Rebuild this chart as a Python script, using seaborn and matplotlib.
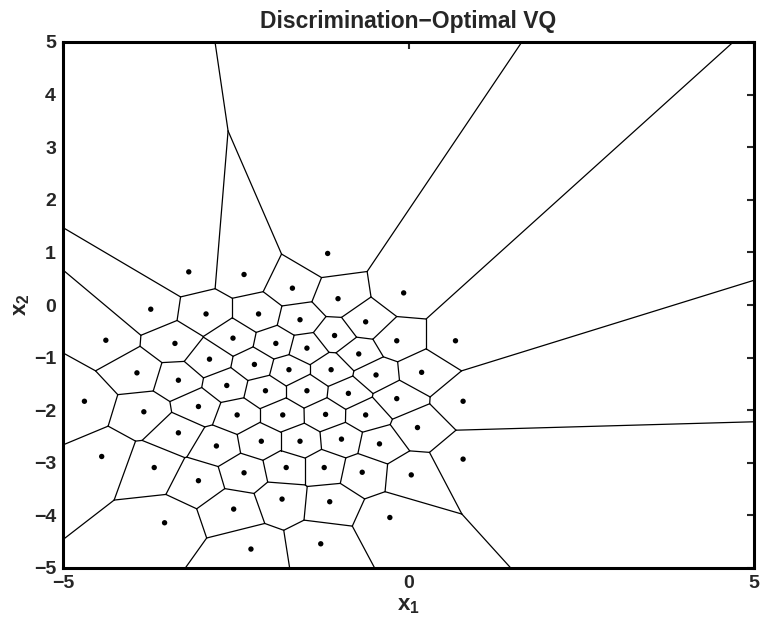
import numpy as np
import pandas as pd
import matplotlib
matplotlib.use("Agg")
import matplotlib.pyplot as plt
import seaborn as sns

# Codebook (quantizer centroid) coordinates
x1 = [-3.18, -2.38, -1.17, -0.07, -3.73, -2.93, -2.17, -1.68, -1.02, -1.57,
      -0.62, -4.38, -3.38, -2.54, -1.92, -1.47, -1.07, -0.17, 0.68, -3.93,
      -3.33, -2.88, -2.23, -1.73, -0.72, -1.12, -0.47, 0.19, -4.69, -3.83,
      -3.04, -2.63, -2.07, -1.47, -0.87, -0.17, 0.79, -3.33, -2.48, -1.82,
      -1.20, -0.62, 0.13, -2.78, -2.13, -1.57, -0.97, -0.42, -4.44, -3.68,
      -3.04, -2.38, -1.77, -1.22, -0.67, 0.04, 0.79, -1.83, -2.53, -1.14,
      -0.27, -3.53, -2.28, -1.27]
x2 = [0.63, 0.58, 0.98, 0.23, -0.08, -0.17, -0.17, 0.32, 0.12, -0.28,
      -0.32, -0.67, -0.73, -0.63, -0.73, -0.82, -0.58, -0.68, -0.68, -1.29,
      -1.43, -1.03, -1.13, -1.23, -0.93, -1.23, -1.33, -1.28, -1.83, -2.03,
      -1.93, -1.53, -1.63, -1.63, -1.68, -1.78, -1.83, -2.43, -2.09, -2.09,
      -2.08, -2.09, -2.33, -2.68, -2.59, -2.59, -2.55, -2.64, -2.88, -3.09,
      -3.34, -3.19, -3.09, -3.09, -3.18, -3.23, -2.93, -3.69, -3.88, -3.74,
      -4.04, -4.14, -4.64, -4.54]

# Where the unbounded cell borders leave the [-5,5]^2 window
exit_x = [-2.80, 1.64, 4.70, 5.00, 5.00, 1.48, -0.49, -1.72, -3.23,
          -5.00, -5.00, -5.00, -5.00, -5.00]
exit_y = [5.00, 5.00, 5.00, 0.47, -2.22, -5.00, -5.00, -5.00, -5.00,
          -4.46, -2.66, -0.91, 0.63, 1.46]

title = "Discrimination\u2212Optimal VQ"
xticks = [-5, 0, 5]
yticks = [-5, -4, -3, -2, -1, 0, 1, 2, 3, 4, 5]
LIM = 5.0


def box_exit(v, d):
    best = None
    for k in range(2):
        if abs(d[k]) > 1e-12:
            for b in (-LIM, LIM):
                t = (b - v[k]) / d[k]
                if t > 0:
                    p = v + t * d
                    if np.all(np.abs(p) <= LIM + 1e-9):
                        if best is None or t < best[0]:
                            best = (t, p)
    return None if best is None else best[1]


def voronoi_edges(xs, ys, ex, ey, reach=100.0):
    P = np.column_stack([xs, ys]).astype(float)
    n = len(P)
    sq = (P ** 2).sum(axis=1)
    finite, rays = [], []
    for i in range(n):
        for j in range(i + 1, n):
            m = (P[i] + P[j]) / 2.0
            v = P[j] - P[i]
            d = np.array([-v[1], v[0]])
            d /= np.linalg.norm(d)
            lo, hi = -reach, reach
            ok = True
            for k in range(n):
                if k == i or k == j:
                    continue
                w = P[k] - P[i]
                a = 2.0 * d.dot(w)
                b = sq[k] - sq[i] - 2.0 * m.dot(w)
                if abs(a) < 1e-12:
                    if b < 0:
                        ok = False
                        break
                elif a > 0:
                    hi = min(hi, b / a)
                else:
                    lo = max(lo, b / a)
                if lo >= hi:
                    ok = False
                    break
            if not ok or hi - lo <= 1e-9:
                continue
            if hi >= reach and lo > -reach:
                vtx, dd = m + lo * d, d
            elif lo <= -reach and hi < reach:
                vtx, dd = m + hi * d, -d
            else:
                finite.append((m + lo * d, m + hi * d))
                continue
            ext = box_exit(vtx, dd) if np.all(np.abs(vtx) < LIM) else None
            if ext is None:
                finite.append((vtx, vtx + reach * dd))
            else:
                rays.append([vtx, ext])
    # match each computed window exit with the nearest (in angle) reference exit
    c = np.array([np.mean(xs), np.mean(ys)])
    ref = np.column_stack([ex, ey])
    ang = lambda p: np.arctan2(p[1] - c[1], p[0] - c[0])
    pairs = []
    for a, r in enumerate(rays):
        for b, q in enumerate(ref):
            diff = abs((ang(r[1]) - ang(q) + np.pi) % (2 * np.pi) - np.pi)
            pairs.append((diff, a, b))
    used_a, used_b = set(), set()
    for diff, a, b in sorted(pairs):
        if a in used_a or b in used_b or diff > 0.5:
            continue
        rays[a][1] = ref[b]
        used_a.add(a)
        used_b.add(b)
    rows = []
    for s, (p0, p1) in enumerate(finite + [tuple(r) for r in rays]):
        rows.append((p0[0], p0[1], s))
        rows.append((p1[0], p1[1], s))
    return pd.DataFrame(rows, columns=["x", "y", "seg"])


edges = voronoi_edges(x1, x2, exit_x, exit_y)
pts = pd.DataFrame({"x1": x1, "x2": x2})

sns.set_theme(style="white")
plt.rcParams["font.family"] = ["Liberation Sans", "DejaVu Sans"]
plt.rcParams["font.weight"] = "bold"
plt.rcParams["mathtext.fontset"] = "custom"
plt.rcParams["mathtext.rm"] = "Liberation Sans"
plt.rcParams["mathtext.bf"] = "Liberation Sans:bold"

fig = plt.figure(figsize=(7.66, 6.30), dpi=100)
ax = fig.add_axes([63 / 766, 1 - 568 / 630, (754 - 63) / 766, (568 - 42) / 630])

sns.lineplot(data=edges, x="x", y="y", units="seg", estimator=None, sort=False,
             color="black", linewidth=0.9, ax=ax, legend=False)
sns.scatterplot(data=pts, x="x1", y="x2", color="black", s=15, edgecolor="none",
                ax=ax, legend=False, zorder=3)

ax.set_xlim(-5, 5)
ax.set_ylim(-5, 5)
ax.set_xticks(xticks)
ax.set_yticks(yticks)
ax.set_xticklabels([f"{t}".replace("-", "\u2212") for t in xticks])
ax.set_yticklabels([f"{t}".replace("-", "\u2212") for t in yticks])
ax.tick_params(direction="in", top=True, right=True, length=5, width=1.5,
               labelsize=14, pad=5)
for lab in ax.get_xticklabels() + ax.get_yticklabels():
    lab.set_fontweight("bold")
for sp in ax.spines.values():
    sp.set_linewidth(2.2)
    sp.set_color("black")

ax.set_xlabel(r"$\mathbf{x}_\mathbf{1}$", fontsize=16, labelpad=2)
ax.set_ylabel(r"$\mathbf{x}_\mathbf{2}$", fontsize=16, labelpad=1)
ax.set_title(title, fontsize=16.5, fontweight="bold", pad=10)

fig.savefig("out.png", dpi=100)
